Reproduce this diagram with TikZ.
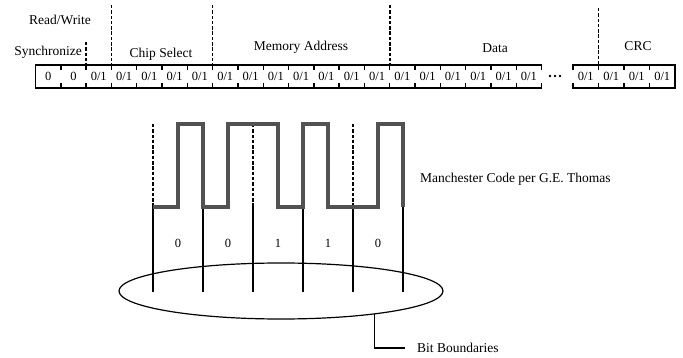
\documentclass[tikz,border=0pt]{standalone}
\usepackage{fontspec}
\setmainfont{Liberation Serif}
\usetikzlibrary{shapes.geometric}
\tikzset{
  frame/.style = {line width = 1.4pt, line cap = rect},
  sep/.style = {line width = 1.6pt, dash pattern = on 3.5pt off 1.8pt},
  wave/.style = {line width = 3.6pt, color = black!68, line join = miter},
  bound/.style = {line width = 1.2pt},
  lbl/.style = {font = \fontsize{13.5}{15}\selectfont, inner sep = 0pt},
  bit/.style = {font = \fontsize{12.5}{14}\selectfont, inner sep = 0pt}
}
\begin{document}
\begin{tikzpicture}[x = 1pt, y = -1pt]
\useasboundingbox (0,0) rectangle (683,358);
\pgfmathsetmacro\cellw{25.3};
\pgfmathsetmacro\left{35.5};
\pgfmathsetmacro\rgt{\left+20*\cellw};
% message frame
\draw [frame] (\rgt,65) -- (\left,65) -- (\left,88) -- (\rgt,88);
\foreach \n in {1,...,20} \draw [frame] (\left+\n*\cellw,65) -- ++(0,4) (\left+\n*\cellw,88) -- ++(0,-4);
\foreach \n in {1,...,20} {
  \ifnum\n<3 \def\val{0}\else\def\val{0/1}\fi
  \node [bit] (c\n) at (\left+\n*\cellw-\cellw/2,76.5) {\val};
}
\foreach \d in {550,555,560} \fill (\d,76) circle (1.3pt);
\draw [frame] (573,65) -- ++(0,4) (573,88) -- ++(0,-4);
\draw [frame] (573,65) -- (675,65) -- (675,88) -- (573,88);
\foreach \n in {1,...,3} \draw [frame] (573+\n*25.5,65) -- ++(0,4) (573+\n*25.5,88) -- ++(0,-4);
\foreach \n in {1,...,4} \node [bit] (e\n) at (573+\n*25.5-12.75,76.5) {0/1};
% field separators
\draw [sep] (\left+2*\cellw,42) -- (\left+2*\cellw,65);
\foreach \n in {3,7,14} \draw [sep] (\left+\n*\cellw,5) -- (\left+\n*\cellw,65);
\draw [sep] (598.5,8) -- (598.5,65);
\node [lbl] (rw) at (60,20) {Read/Write};
\node [lbl, anchor = east] (sync) at (82,52) {Synchronize};
\node [lbl] (cs) at (161,54) {Chip Select};
\node [lbl] (ma) at (301,47) {Memory Address};
\node [lbl] (data) at (495,48) {Data};
\node [lbl] (crc) at (638,46) {CRC};
% manchester waveform
\foreach \x in {153,253,353} \draw [sep, line width = 1.3pt] (\x,124) -- (\x,207);
\foreach \x in {153,203,...,403} \draw [bound] (\x,207) -- (\x,292);
\draw [wave] (153,207) -| (178,124) -| (203,207) -| (228,124) -| (278,207) -| (303,124) -| (328,207) -| (378,124) -| (403,207);
\foreach \b [count = \i] in {0,0,1,1,0} \node [bit] (b\i) at (128+\i*50,243) {\b};
\node [lbl, anchor = west] (man) at (420,179) {Manchester Code per G.E. Thomas};
% bit boundaries
\node [draw, ellipse, line width = 1.2pt, minimum width = 324pt, minimum height = 56pt, inner sep = 0pt] (bounds) at (281,291) {};
\node [lbl, anchor = west] (bb) at (417,348) {Bit Boundaries};
\draw [bound] (bounds.-14) |- ([xshift = -12pt]bb.west);
\end{tikzpicture}
\end{document}
